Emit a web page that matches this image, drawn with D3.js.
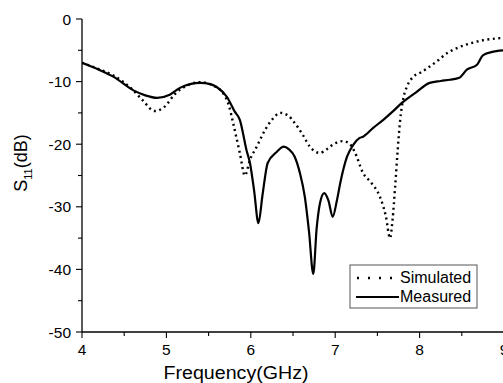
<!DOCTYPE html>
<html>
<head>
<meta charset="utf-8">
<script src="https://cdn.jsdelivr.net/npm/d3@7"></script>
<style>
  body { margin: 0; background: #fff; }
  text { font-family: "Liberation Sans", Arial, sans-serif; }
</style>
</head>
<body>
<script>
// readings from the reference picture (GHz, dB)
var measuredF = [4.0, 4.2, 4.37, 4.61, 4.75, 4.89, 5.04, 5.16, 5.28, 5.4, 5.52, 5.6, 5.72, 5.81, 5.87, 5.95, 5.99, 6.04, 6.09, 6.14, 6.2, 6.31, 6.39, 6.45, 6.52, 6.58, 6.64, 6.69, 6.74, 6.78, 6.82, 6.87, 6.92, 6.97, 7.02, 7.06, 7.14, 7.22, 7.29, 7.33, 7.45, 7.57, 7.68, 7.79, 7.95, 8.12, 8.25, 8.36, 8.47, 8.56, 8.68, 8.75, 8.85, 9.0];
var measuredDb = [-7.0, -8.1, -9.2, -11.4, -12.2, -12.6, -12.1, -11.0, -10.4, -10.2, -10.4, -10.9, -12.5, -14.8, -16.1, -21.0, -23.0, -27.5, -32.6, -28.0, -23.0, -21.2, -20.4, -20.8, -22.0, -24.5, -28.4, -34.0, -40.7, -33.5, -29.4, -27.8, -29.0, -31.6, -29.0, -26.2, -22.0, -20.0, -19.0, -18.8, -17.4, -16.1, -14.8, -13.4, -11.8, -10.2, -9.9, -9.7, -9.4, -8.1, -7.3, -5.8, -5.3, -5.0];

var simulatedF = [4.0, 4.2, 4.37, 4.6, 4.72, 4.86, 4.98, 5.1, 5.25, 5.4, 5.55, 5.68, 5.74, 5.79, 5.87, 5.93, 5.99, 6.07, 6.17, 6.25, 6.35, 6.44, 6.52, 6.62, 6.7, 6.82, 6.9, 6.97, 7.09, 7.16, 7.23, 7.33, 7.43, 7.53, 7.6, 7.65, 7.68, 7.71, 7.74, 7.77, 7.81, 7.85, 7.92, 8.02, 8.12, 8.22, 8.32, 8.45, 8.6, 8.75, 8.92, 9.0];
var simulatedDb = [-7.0, -8.0, -9.0, -11.3, -13.0, -14.7, -14.0, -12.0, -10.6, -10.1, -10.6, -12.0, -13.8, -16.6, -21.4, -25.0, -22.5, -20.4, -17.7, -16.1, -15.0, -15.4, -16.6, -18.6, -20.4, -21.4, -20.8, -20.1, -19.5, -19.8, -21.2, -24.6, -26.2, -28.4, -31.5, -35.0, -32.0, -26.8, -21.0, -16.1, -12.5, -10.8, -9.3, -8.5, -7.6, -6.6, -5.5, -4.6, -3.9, -3.4, -3.1, -3.0];

var xTicks = [4, 5, 6, 7, 8, 9];
var yTicks = [0, -10, -20, -30, -40, -50];

var svg = d3.select("body").append("svg")
  .attr("width", 503)
  .attr("height", 383);

var x = d3.scaleLinear().domain([4, 9]).range([82, 504]);
var y = d3.scaleLinear().domain([-50, 0]).range([332, 19]);

// x axis
var xAxis = svg.append("g").attr("transform", "translate(0,332)");
xAxis.append("line").attr("x1", 82).attr("x2", 503).attr("stroke", "#000").attr("stroke-width", 1.3);
xAxis.selectAll(".minor").data(d3.range(4.5, 9, 1)).enter().append("line")
  .attr("x1", d => x(d)).attr("x2", d => x(d)).attr("y1", 0).attr("y2", 4)
  .attr("stroke", "#000").attr("stroke-width", 1.1);
xAxis.selectAll(".major").data(xTicks).enter().append("line")
  .attr("x1", d => x(d)).attr("x2", d => x(d)).attr("y1", 0).attr("y2", 6)
  .attr("stroke", "#000").attr("stroke-width", 1.1);
xAxis.selectAll("text").data(xTicks).enter().append("text")
  .attr("x", d => x(d)).attr("y", 23)
  .attr("text-anchor", "middle").attr("font-size", 15.5)
  .text(d => d);

// y axis
var yAxis = svg.append("g").attr("transform", "translate(82,0)");
yAxis.append("line").attr("y1", 19).attr("y2", 332).attr("stroke", "#000").attr("stroke-width", 1.3);
yAxis.selectAll(".minor").data(d3.range(-45, 0, 10)).enter().append("line")
  .attr("x1", -4).attr("x2", 0).attr("y1", d => y(d)).attr("y2", d => y(d))
  .attr("stroke", "#000").attr("stroke-width", 1.1);
yAxis.selectAll(".major").data(yTicks).enter().append("line")
  .attr("x1", -6).attr("x2", 0).attr("y1", d => y(d)).attr("y2", d => y(d))
  .attr("stroke", "#000").attr("stroke-width", 1.1);
yAxis.selectAll("text").data(yTicks).enter().append("text")
  .attr("x", -11).attr("y", d => y(d) + 5.5)
  .attr("text-anchor", "end").attr("font-size", 15.5)
  .text(d => d);

// axis titles
svg.append("text")
  .attr("x", 236).attr("y", 379)
  .attr("text-anchor", "middle").attr("font-size", 18)
  .attr("textLength", 145).attr("lengthAdjust", "spacingAndGlyphs")
  .text("Frequency(GHz)");

var yTitle = svg.append("text")
  .attr("transform", "translate(27,163) rotate(-90)")
  .attr("text-anchor", "middle").attr("font-size", 18);
yTitle.append("tspan").text("S");
yTitle.append("tspan").attr("font-size", 11).attr("dy", 5).text("11");
yTitle.append("tspan").attr("dy", -5).text("(dB)");

// curves
var line = d3.line()
  .x(d => x(d[0]))
  .y(d => y(d[1]))
  .curve(d3.curveMonotoneX);

svg.append("clipPath").attr("id", "plot")
  .append("rect").attr("x", 82).attr("y", 0).attr("width", 421).attr("height", 332);

svg.append("path")
  .attr("d", line(d3.zip(simulatedF, simulatedDb)))
  .attr("clip-path", "url(#plot)")
  .attr("fill", "none").attr("stroke", "#000")
  .attr("stroke-width", 2.4).attr("stroke-dasharray", "2,3.5");

svg.append("path")
  .attr("d", line(d3.zip(measuredF, measuredDb)))
  .attr("clip-path", "url(#plot)")
  .attr("fill", "none").attr("stroke", "#000")
  .attr("stroke-width", 2.2);

// legend
var legend = svg.append("g");
legend.append("rect")
  .attr("x", 350).attr("y", 265).attr("width", 127).attr("height", 43)
  .attr("fill", "#fff").attr("stroke", "#555").attr("stroke-width", 1);
legend.append("line")
  .attr("x1", 357).attr("x2", 396).attr("y1", 278).attr("y2", 278)
  .attr("stroke", "#000").attr("stroke-width", 2.4).attr("stroke-dasharray", "2,9");
legend.append("line")
  .attr("x1", 356).attr("x2", 399).attr("y1", 297).attr("y2", 297)
  .attr("stroke", "#000").attr("stroke-width", 2.2);
legend.append("text").attr("x", 400).attr("y", 283).attr("font-size", 16).text("Simulated");
legend.append("text").attr("x", 400).attr("y", 302).attr("font-size", 16).text("Measured");
</script>
</body>
</html>
